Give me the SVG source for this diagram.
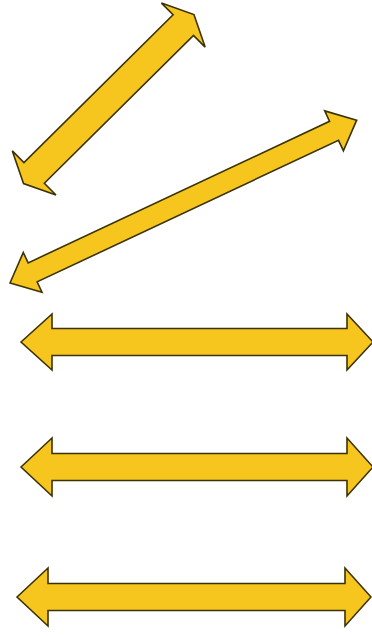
<svg xmlns="http://www.w3.org/2000/svg" width="372" height="636" viewBox="0 0 372 636">
<style>
.arr{fill:#F6C61E;stroke:#3b3207;stroke-width:1.6;stroke-linejoin:miter}
</style>
<rect width="372" height="636" fill="#ffffff"/>
<g id="arrow1" transform="translate(23.5,183.5) rotate(-44.75)">
<polygon class="arr" points="0,0 15,-31 15,-14.5 225,-14.5 225,-31 240,0 225,31 225,14.5 15,14.5 15,31"/>
</g>
<g id="arrow2" transform="translate(10,283) rotate(-25.16)">
<polygon class="arr" points="0,0 25,-22 25,-10.5 358,-10.5 358,-22 383,0 358,22 358,10.5 25,10.5 25,22"/>
</g>
<g id="arrow3" transform="translate(21,342)">
<polygon class="arr" points="0,0 31,-28 31,-13.5 326,-13.5 326,-28 352,0 326,28 326,13.5 31,13.5 31,28"/>
</g>
<g id="arrow4" transform="translate(21,467)">
<polygon class="arr" points="0,0 31,-29 31,-13.5 326,-13.5 326,-29 352,0 326,29 326,13.5 31,13.5 31,29"/>
</g>
<g id="arrow5" transform="translate(17,597)">
<polygon class="arr" points="0,0 31,-29 31,-13.5 328,-13.5 328,-29 354,0 328,29 328,13.5 31,13.5 31,29"/>
</g>
<g id="connectors"/>
</svg>
